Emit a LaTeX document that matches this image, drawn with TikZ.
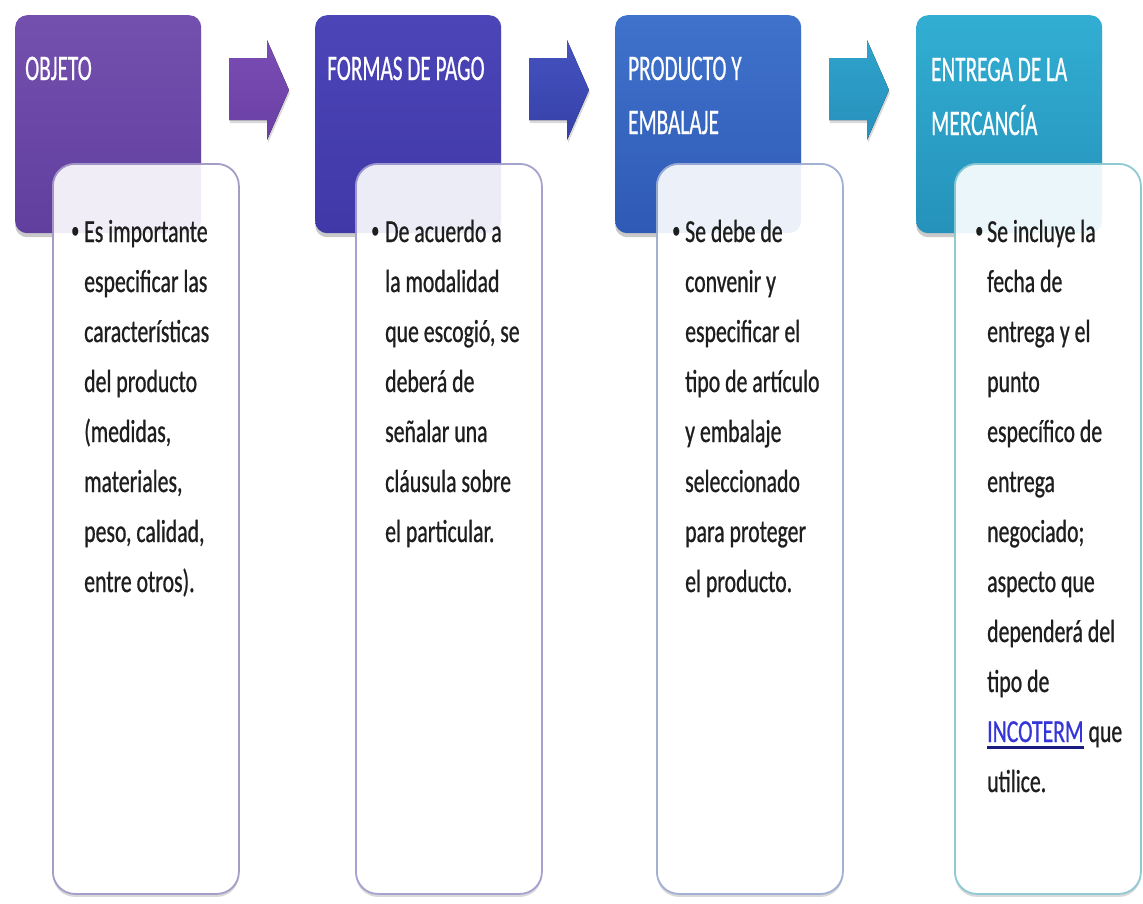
\documentclass[tikz,border=0pt]{standalone}
\usepackage{fontspec}
\usetikzlibrary{shadows}
\newfontfamily\bodyfont[FakeStretch=0.68,FakeBold=0.7]{Carlito}
\newfontfamily\headfont[FakeStretch=0.59,FakeBold=0.5]{Carlito}
\definecolor{hAtop}{HTML}{7450AE}\definecolor{hAbot}{HTML}{603F9F}
\definecolor{hBtop}{HTML}{4B45B8}\definecolor{hBbot}{HTML}{4138A8}
\definecolor{hCtop}{HTML}{3F72CC}\definecolor{hCbot}{HTML}{2F5AB5}
\definecolor{hDtop}{HTML}{32AED2}\definecolor{hDbot}{HTML}{2592BB}
\definecolor{aAtop}{HTML}{7A4DB4}\definecolor{aAbot}{HTML}{6A3FA4}
\definecolor{aBtop}{HTML}{4553C0}\definecolor{aBbot}{HTML}{3640A8}
\definecolor{aCtop}{HTML}{2EA3CB}\definecolor{aCbot}{HTML}{2790BC}
\definecolor{lnA}{HTML}{A59DC8}\definecolor{lnB}{HTML}{A6A2D0}
\definecolor{lnC}{HTML}{A2B0D4}\definecolor{lnD}{HTML}{8FC9D3}
\definecolor{txt}{HTML}{1E1E1E}
\definecolor{linkblue}{HTML}{3535D8}\definecolor{navy}{HTML}{1A1A80}
\newcommand\linesblock[2]{\vtop{\baselineskip=#1\lineskiplimit=-100pt\halign{##\hfil\cr#2\crcr}}}
\newcommand\incolink{\setbox0=\hbox{INCOTERM}\rlap{\textcolor{navy}{\rule[-7pt]{\wd0}{3pt}}}\textcolor{linkblue}{INCOTERM}}
\tikzset{
  hdr/.style={rounded corners=12pt, inner sep=0pt, anchor=north west,
    minimum width=186pt, minimum height=218pt,
    drop shadow={shadow xshift=0pt, shadow yshift=-4pt, opacity=0.3, fill=black!70}},
  card/.style={rounded corners=22pt, inner sep=0pt, anchor=north west, fill=white,
    line width=1.8pt, minimum width=186pt, minimum height=730pt,
    drop shadow={shadow xshift=0pt, shadow yshift=-3pt, opacity=0.25, fill=black!60}},
  arrowshade/.style={drop shadow={shadow xshift=1pt, shadow yshift=-3pt, opacity=0.25, fill=black!60}},
  bodytxt/.style={anchor=base west, inner sep=0pt, text=txt,
    font=\bodyfont\fontsize{32}{50}\selectfont},
  bul/.style={anchor=base west, inner sep=0pt, text=txt,
    font=\bodyfont\fontsize{24}{50}\selectfont},
  headtxt/.style={anchor=base west, inner sep=0pt, text=white,
    font=\headfont\fontsize{36}{54}\selectfont},
}
\begin{document}
\begin{tikzpicture}[x=1pt,y=-1pt]
\useasboundingbox (0,0) rectangle (1143,903);
% header boxes
\node[hdr, top color=hAtop, bottom color=hAbot] (h1) at (15,15) {};
\node[hdr, top color=hBtop, bottom color=hBbot] (h2) at (315,15) {};
\node[hdr, top color=hCtop, bottom color=hCbot] (h3) at (615,15) {};
\node[hdr, top color=hDtop, bottom color=hDbot] (h4) at (916,15) {};
% arrows
\fill[top color=aAtop, bottom color=aAbot, arrowshade] (229,58) -- (267,58) -- (267,40) -- (289,90) -- (267,140) -- (267,120) -- (229,120) -- cycle;
\fill[top color=aBtop, bottom color=aBbot, arrowshade] (529,58) -- (567,58) -- (567,40) -- (589,90) -- (567,140) -- (567,120) -- (529,120) -- cycle;
\fill[top color=aCtop, bottom color=aCbot, arrowshade] (829,58) -- (867,58) -- (867,40) -- (889,90) -- (867,140) -- (867,120) -- (829,120) -- cycle;
% header texts
\node[headtxt] (ht1) at (25,80) {\linesblock{54pt}{OBJETO}};
\node[headtxt] (ht2) at (327,80) {\linesblock{54pt}{FORMAS DE PAGO}};
\node[headtxt] (ht3) at (628,80) {\linesblock{54pt}{PRODUCTO Y\cr EMBALAJE}};
\node[headtxt] (ht4) at (931,81) {\linesblock{54pt}{ENTREGA DE LA\cr MERCANCÍA}};
% cards
\node[card, draw=lnA] (w1) at (52,163) {};
\node[card, draw=lnB] (w2) at (355,163) {};
\node[card, draw=lnC] (w3) at (656,163) {};
\node[card, draw=lnD] (w4) at (954,163) {};
% translucent tint where cards overlap headers
\begin{scope}\clip[rounded corners=22pt] (52,163) rectangle (238,893);
\fill[hAtop, opacity=0.1, rounded corners=12pt] (15,15) rectangle (201,233);\end{scope}
\begin{scope}\clip[rounded corners=22pt] (355,163) rectangle (541,893);
\fill[hBtop, opacity=0.1, rounded corners=12pt] (315,15) rectangle (501,233);\end{scope}
\begin{scope}\clip[rounded corners=22pt] (656,163) rectangle (842,893);
\fill[hCtop, opacity=0.1, rounded corners=12pt] (615,15) rectangle (801,233);\end{scope}
\begin{scope}\clip[rounded corners=22pt] (954,163) rectangle (1140,893);
\fill[hDtop, opacity=0.1, rounded corners=12pt] (916,15) rectangle (1102,233);\end{scope}
% bullets
\node[bul] (b1) at (71,238) {•};
\node[bul] (b2) at (371,238) {•};
\node[bul] (b3) at (672,238) {•};
\node[bul] (b4) at (975,238) {•};
% body texts
\node[bodytxt] (t1) at (84,242) {\linesblock{50pt}{Es importante\cr especificar las\cr características\cr del producto\cr (medidas,\cr materiales,\cr peso, calidad,\cr entre otros).}};
\node[bodytxt] (t2) at (385,242) {\linesblock{50pt}{De acuerdo a\cr la modalidad\cr que escogió, se\cr deberá de\cr señalar una\cr cláusula sobre\cr el particular.}};
\node[bodytxt] (t3) at (685,242) {\linesblock{50pt}{Se debe de\cr convenir y\cr especificar el\cr tipo de artículo\cr y embalaje\cr seleccionado\cr para proteger\cr el producto.}};
\node[bodytxt] (t4) at (987,242) {\linesblock{50pt}{Se incluye la\cr fecha de\cr entrega y el\cr punto\cr específico de\cr entrega\cr negociado;\cr aspecto que\cr dependerá del\cr tipo de\cr \incolink{} que\cr utilice.}};
\end{tikzpicture}
\end{document}
